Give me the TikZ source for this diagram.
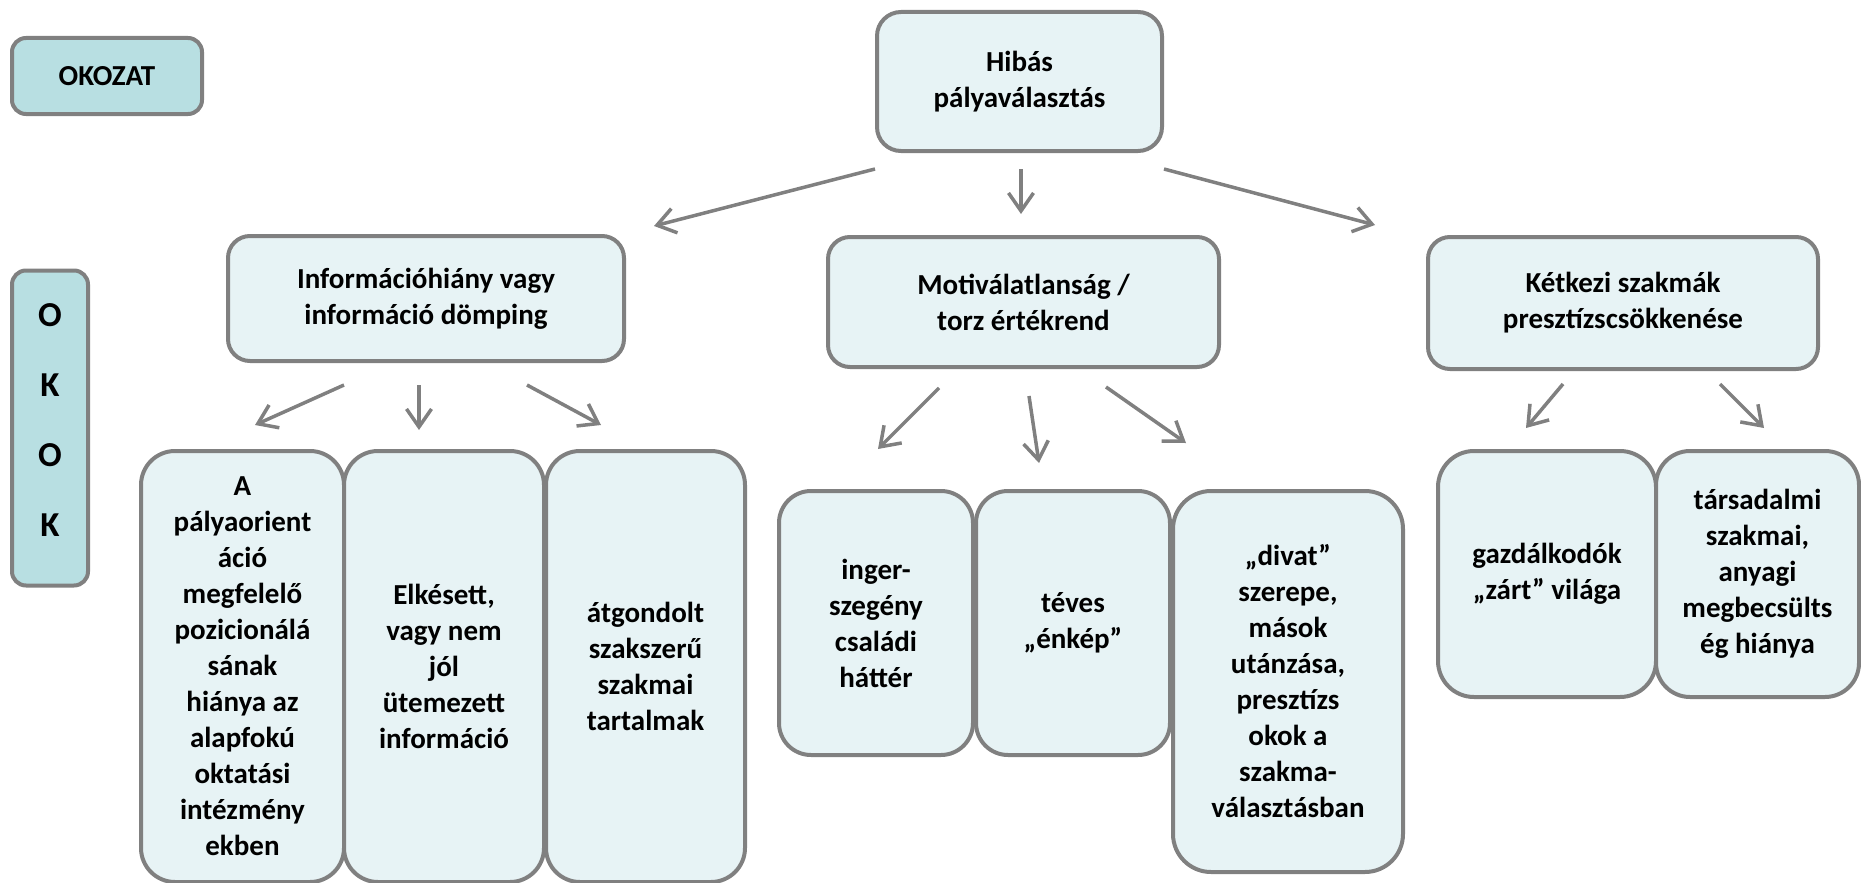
\documentclass[tikz,border=0pt]{standalone}
\usepackage{fontspec}
\setmainfont{Carlito}
\usetikzlibrary{arrows.meta}

\definecolor{boxgray}{RGB}{128,128,128}
\definecolor{boxfill}{RGB}{231,243,245}
\definecolor{tagfill}{RGB}{184,223,226}

\begin{document}
\begin{tikzpicture}[x=1pt,y=-1pt,
  box/.style={draw=boxgray, line width=4pt, fill=boxfill, rounded corners=#1,
    align=center, inner sep=0pt, font=\bfseries\fontsize{29}{36}\selectfont},
  box/.default=22pt,
  tag/.style={box=#1, fill=tagfill},
  tag/.default=14pt,
  arr/.style={draw=boxgray, line width=3.5pt, -{Straight Barb[length=18pt,width=25pt]}}]

\useasboundingbox (0,0) rectangle (1861,883);

\node[tag, minimum width=190pt, minimum height=76pt] (okozat) at (107,76) {OKOZAT};
\node[tag, minimum width=76pt, minimum height=315pt, text depth=16pt,
  font=\bfseries\fontsize{35}{44}\selectfont] (okok) at (50,428) {O\\[26pt]K\\[26pt]O\\[26pt]K};

\node[box=24pt, minimum width=285pt, minimum height=139pt] (hibas) at (1019.5,81.5) {Hibás\\pályaválasztás};

\node[box, minimum width=396pt, minimum height=125pt] (info) at (426,298.5) {Információhiány vagy\\információ dömping};
\node[box, minimum width=391pt, minimum height=130pt] (motiv) at (1023.5,302) {Motiválatlanság /\\torz értékrend};
\node[box, minimum width=390pt, minimum height=132pt] (ketkezi) at (1623,303) {Kétkezi szakmák\\presztízscsökkenése};

\node[box=34pt, minimum width=203pt, minimum height=431pt] (hianya) at (242.5,666.5) {A\\pályaorient\\áció\\megfelelő\\pozicionálá\\sának\\hiánya az\\alapfokú\\oktatási\\intézmény\\ekben};
\node[box=34pt, minimum width=200pt, minimum height=431pt] (kesett) at (444,666.5) {Elkésett,\\vagy nem\\jól\\ütemezett\\információ};
\node[box=34pt, minimum width=199pt, minimum height=431pt] (tartalom) at (645.5,666.5) {átgondolt\\szakszerű\\szakmai\\tartalmak};

\node[box=32pt, minimum width=194pt, minimum height=264pt] (csalad) at (876,623) {inger-\\szegény\\családi\\háttér};
\node[box=32pt, minimum width=194pt, minimum height=264pt] (enkep) at (1073,623) {téves\\„énkép”};
\node[box=38pt, minimum width=230pt, minimum height=381pt] (divat) at (1288,681.5) {„divat”\\szerepe,\\mások\\utánzása,\\presztízs\\okok a\\szakma-\\választásban};

\node[box=36pt, minimum width=218pt, minimum height=246pt] (gazda) at (1547,574) {gazdálkodók\\„zárt” világa};
\node[box=34pt, minimum width=203pt, minimum height=246pt] (becsules) at (1757.5,574) {társadalmi\\szakmai,\\anyagi\\megbecsülts\\ég hiánya};

\draw[arr] ([yshift=-16pt]hibas.south west) -- ([xshift=28pt,yshift=8pt]info.north east);
\draw[arr] ([xshift=1.5pt,yshift=-16pt]hibas.south) -- ([xshift=-2.5pt,yshift=21pt]motiv.north);
\draw[arr] ([yshift=-16pt]hibas.south east) -- ([xshift=-51pt,yshift=10pt]ketkezi.north west);

\draw[arr] ([xshift=-82pt,yshift=-22pt]info.south) -- ([xshift=12.5pt,yshift=24pt]hianya.north);
\draw[arr] ([xshift=-7pt,yshift=-22pt]info.south) -- ([xshift=-25pt,yshift=19pt]kesett.north);
\draw[arr] ([xshift=101pt,yshift=-22pt]info.south) -- ([xshift=-44.5pt,yshift=24pt]tartalom.north);

\draw[arr] ([xshift=-84.5pt,yshift=-19pt]motiv.south) -- ([xshift=2pt,yshift=40pt]csalad.north);
\draw[arr] ([xshift=5.5pt,yshift=-27pt]motiv.south) -- ([xshift=-34pt,yshift=26pt]enkep.north);
\draw[arr] ([xshift=82.5pt,yshift=-18pt]motiv.south) -- ([xshift=-102pt,yshift=46pt]divat.north);

\draw[arr] ([xshift=-60pt,yshift=-13pt]ketkezi.south) -- ([xshift=-21pt,yshift=21pt]gazda.north);
\draw[arr] ([xshift=97pt,yshift=-13pt]ketkezi.south) -- ([xshift=6.5pt,yshift=21pt]becsules.north);

\end{tikzpicture}
\end{document}
